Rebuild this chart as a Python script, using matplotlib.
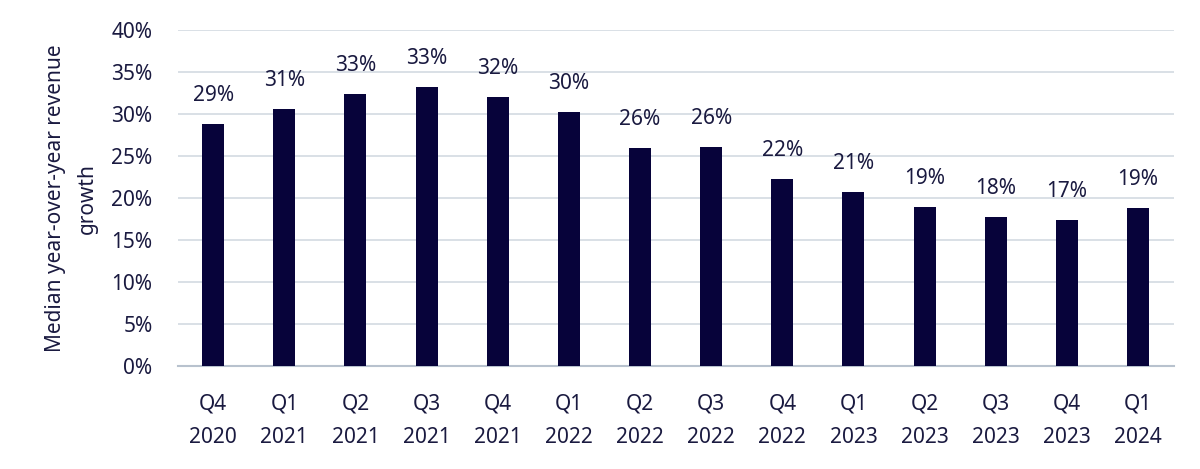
import matplotlib.pyplot as plt
import numpy as np

# Data
quarters = ['Q4', 'Q1', 'Q2', 'Q3', 'Q4', 'Q1', 'Q2', 'Q3', 'Q4', 'Q1', 'Q2', 'Q3', 'Q4', 'Q1']
years = ['2020', '2021', '2021', '2021', '2021', '2022', '2022', '2022', '2022',
         '2023', '2023', '2023', '2023', '2024']
growth = [28.9, 30.6, 32.4, 33.3, 32.1, 30.3, 26.0, 26.1, 22.3, 20.7, 19.0, 17.7, 17.4, 18.8]
labels = ['29%', '31%', '33%', '33%', '32%', '30%', '26%', '26%', '22%', '21%',
          '19%', '18%', '17%', '19%']

navy = '#07033A'
text_color = '#1A1A40'
grid_color = '#D3DAE2'

plt.rcParams['font.family'] = ['Noto Sans', 'DejaVu Sans']

fig, ax = plt.subplots(figsize=(12, 4.69), dpi=100)
fig.subplots_adjust(left=0.148, right=0.978, top=0.935, bottom=0.22)

x = np.arange(len(growth))
ax.bar(x, growth, width=0.31, color=navy, zorder=3)

for xi, val, lab in zip(x, growth, labels):
    ax.text(xi, val + 3.4, lab, ha='center', va='center', fontsize=15, color=text_color)

ax.set_ylim(0, 40)
ax.set_xlim(-0.5, len(growth) - 0.5)
ax.set_yticks(np.arange(0, 41, 5))
ax.set_yticklabels([f'{v}%' for v in range(0, 41, 5)])
ax.set_xticks(x)
ax.set_xticklabels([f'{q}\n{y}' for q, y in zip(quarters, years)], linespacing=1.75)

ax.yaxis.grid(True, color=grid_color, linewidth=1.2, zorder=0)
ax.set_axisbelow(True)
for side in ['top', 'right', 'left']:
    ax.spines[side].set_visible(False)
ax.spines['bottom'].set_color('#B8C2CE')
ax.spines['bottom'].set_linewidth(1.5)

ax.tick_params(axis='both', length=0, labelsize=15, colors=text_color)
ax.tick_params(axis='x', pad=20)
ax.tick_params(axis='y', pad=18)

ax.set_ylabel('Median year-over-year revenue\ngrowth', fontsize=15, color=text_color,
              labelpad=10, linespacing=1.65)

plt.savefig('out.png', dpi=100, facecolor='white')
